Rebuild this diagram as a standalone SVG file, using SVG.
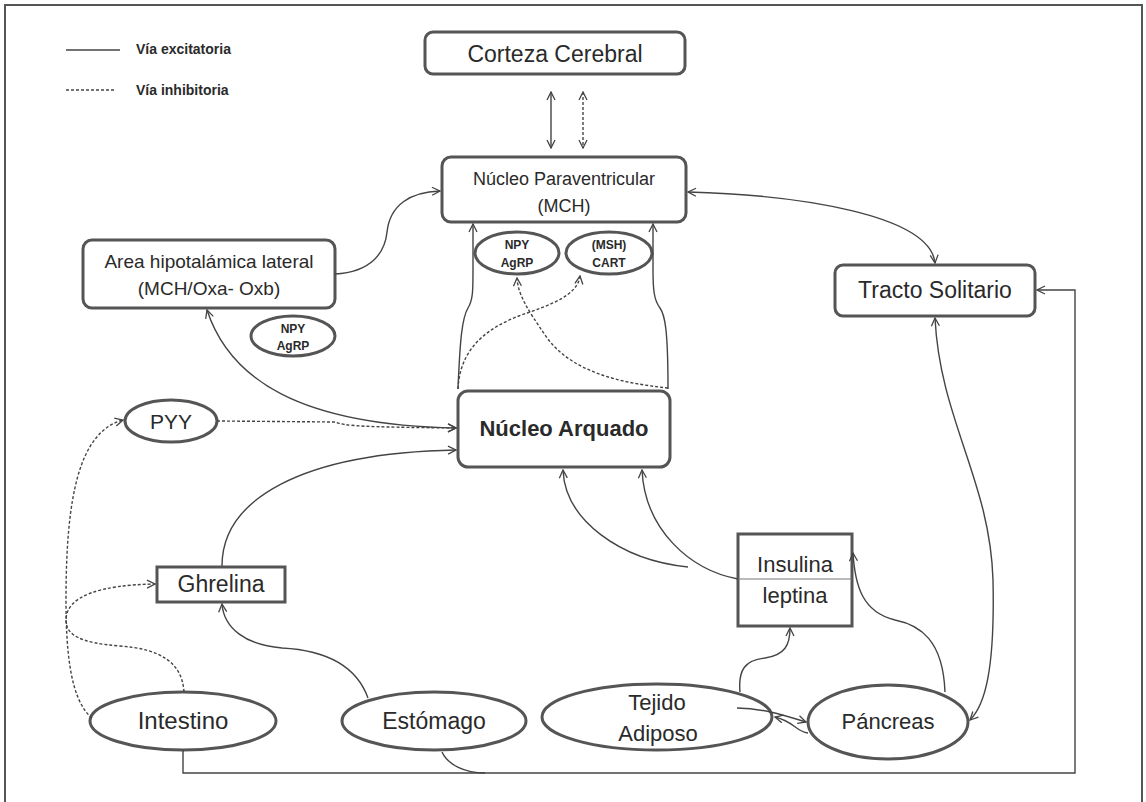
<svg xmlns="http://www.w3.org/2000/svg" width="1146" height="802" viewBox="0 0 1146 802">
<style>
.box{fill:#fff;stroke:#555;stroke-width:3}
.t{font-family:"Liberation Sans",Arial,sans-serif;fill:#2a2a2a;text-anchor:middle}
.b{font-weight:bold}
.ln{fill:none;stroke:#444;stroke-width:1.4}
.ds{fill:none;stroke:#444;stroke-width:1.4;stroke-dasharray:3 2}
</style>
<defs>
<marker id="ar" viewBox="0 0 10 10" refX="9" refY="5" markerWidth="10" markerHeight="10" markerUnits="userSpaceOnUse" orient="auto-start-reverse">
<path d="M1,1 L9,5 L1,9" fill="none" stroke="#444" stroke-width="1.3"/>
</marker>
</defs>
<rect x="0" y="0" width="1146" height="802" fill="#fff"/>
<rect x="5" y="5" width="1137" height="830" fill="none" stroke="#555" stroke-width="2"/>

<g id="legend">
<line x1="66" y1="50" x2="120" y2="50" class="ln"/>
<text x="136" y="54" class="t b" style="text-anchor:start" font-size="14">Vía excitatoria</text>
<line x1="66" y1="90" x2="116" y2="90" class="ds" stroke-dasharray="2 1"/>
<text x="136" y="95" class="t b" style="text-anchor:start" font-size="14">Vía inhibitoria</text>
</g>

<g id="corteza">
<rect x="425" y="32" width="260" height="42" rx="8" class="box"/>
<text x="555" y="62" class="t" font-size="23">Corteza Cerebral</text>
</g>
<g id="paraventricular">
<rect x="442" y="157" width="244" height="65" rx="9" class="box"/>
<text x="564" y="185" class="t" font-size="18">Núcleo Paraventricular</text>
<text x="564" y="212" class="t" font-size="18">(MCH)</text>
</g>
<g id="area">
<rect x="83" y="240" width="252" height="68" rx="9" class="box"/>
<text x="209" y="268" class="t" font-size="19">Area hipotalámica lateral</text>
<text x="209" y="295" class="t" font-size="19">(MCH/Oxa- Oxb)</text>
</g>
<g id="npy-left">
<ellipse cx="293" cy="336" rx="42" ry="20" class="box"/>
<text x="293" y="333" class="t b" font-size="12">NPY</text>
<text x="293" y="350" class="t b" font-size="12">AgRP</text>
</g>
<g id="npy-center">
<ellipse cx="517" cy="253" rx="42" ry="21" class="box"/>
<text x="517" y="249" class="t b" font-size="12">NPY</text>
<text x="517" y="267" class="t b" font-size="12">AgRP</text>
</g>
<g id="cart">
<ellipse cx="609" cy="253" rx="43" ry="21" class="box"/>
<text x="609" y="249" class="t b" font-size="12">(MSH)</text>
<text x="609" y="267" class="t b" font-size="12">CART</text>
</g>
<g id="tracto">
<rect x="835" y="265" width="200" height="51" rx="8" class="box"/>
<text x="935" y="298" class="t" font-size="23">Tracto Solitario</text>
</g>
<g id="arquado">
<rect x="458" y="391" width="212" height="76" rx="10" class="box"/>
<text x="564" y="436" class="t b" font-size="22">Núcleo Arquado</text>
</g>
<g id="pyy">
<ellipse cx="171" cy="421" rx="46" ry="21" class="box"/>
<text x="171" y="429" class="t" font-size="21">PYY</text>
</g>
<g id="ghrelina">
<rect x="157" y="567" width="128" height="35" class="box"/>
<text x="221" y="592" class="t" font-size="23">Ghrelina</text>
</g>
<g id="insulina">
<rect x="738" y="534" width="114" height="92" class="box"/>
<line x1="738" y1="579" x2="852" y2="579" stroke="#777" stroke-width="1"/>
<text x="795" y="572" class="t" font-size="22">Insulina</text>
<text x="795" y="603" class="t" font-size="22">leptina</text>
</g>
<g id="intestino">
<ellipse cx="183" cy="721" rx="93" ry="29" class="box"/>
<text x="183" y="729" class="t" font-size="24">Intestino</text>
</g>
<g id="estomago">
<ellipse cx="434" cy="721" rx="92" ry="29" class="box"/>
<text x="434" y="729" class="t" font-size="23">Estómago</text>
</g>
<g id="tejido">
<ellipse cx="657" cy="717" rx="115" ry="33" class="box"/>
<text x="657" y="710" class="t" font-size="22">Tejido</text>
<text x="658" y="741" class="t" font-size="22">Adiposo</text>
</g>
<g id="pancreas">
<ellipse cx="888" cy="722" rx="80" ry="37" class="box"/>
<text x="888" y="729" class="t" font-size="22">Páncreas</text>
</g>

<g id="connectors">
<path class="ln" d="M551,92 L551,148" marker-start="url(#ar)" marker-end="url(#ar)"/>
<path class="ds" d="M583,92 L583,148" marker-start="url(#ar)" marker-end="url(#ar)"/>
<path class="ln" d="M335,274 C372,272 385,252 387,232 C390,205 410,192 440,191" marker-end="url(#ar)"/>
<path class="ln" d="M688,192 C800,195 930,215 935,263" marker-start="url(#ar)" marker-end="url(#ar)"/>
<path class="ln" d="M207,310 C230,380 300,425 456,428" marker-start="url(#ar)" marker-end="url(#ar)"/>
<path class="ds" d="M217,421 L335,422 C345,426 360,427 456,428" marker-end="url(#ar)"/>
<path class="ln" d="M222,566 C222,500 300,453 456,450" marker-end="url(#ar)"/>
<path class="ln" d="M368,698 C355,662 320,650 282,648 C245,645 224,628 222,604" marker-end="url(#ar)"/>
<path class="ds" d="M92,718 C70,700 66,650 66,600 C66,500 78,432 123,420" marker-end="url(#ar)"/>
<path class="ds" d="M184,692 C182,662 160,649 120,646 C80,643 66,635 66,620 C66,596 100,585 155,584" marker-end="url(#ar)"/>
<path class="ln" d="M688,567 C620,560 565,520 563,470" marker-end="url(#ar)"/>
<path class="ln" d="M738,579 C690,570 645,530 642,470" marker-end="url(#ar)"/>
<path class="ln" d="M740,692 C738,670 745,660 765,658 C785,655 790,645 790,628" marker-end="url(#ar)"/>
<path class="ln" d="M945,692 C943,640 920,625 895,620 C862,612 855,585 853,553" marker-end="url(#ar)"/>
<path class="ln" d="M935,318 C940,420 990,480 993,580 C995,670 985,705 970,720" marker-start="url(#ar)" marker-end="url(#ar)"/>
<path class="ln" d="M737,708 C760,708 780,714 806,722" marker-end="url(#ar)"/>
<path class="ln" d="M808,733 C795,731 795,722 775,717" marker-end="url(#ar)"/>
<path class="ln" d="M183,750 L183,773 L1075,773 L1075,290 L1037,290" marker-end="url(#ar)"/>
<path class="ln" d="M442,752 C448,765 465,773 485,773"/>
<path class="ln" d="M458,389 C460,340 462,318 468,308 C473,300 473,290 473,270 L473,224" marker-end="url(#ar)"/>
<path class="ln" d="M668,389 C668,330 665,315 660,308 C654,300 653,290 653,270 L653,224" marker-end="url(#ar)"/>
<path class="ds" d="M458,389 C460,340 500,322 530,312 C565,300 578,290 580,276" marker-end="url(#ar)"/>
<path class="ds" d="M668,388 C620,383 570,372 545,335 C528,310 518,295 517,278" marker-end="url(#ar)"/>
</g>
</svg>
